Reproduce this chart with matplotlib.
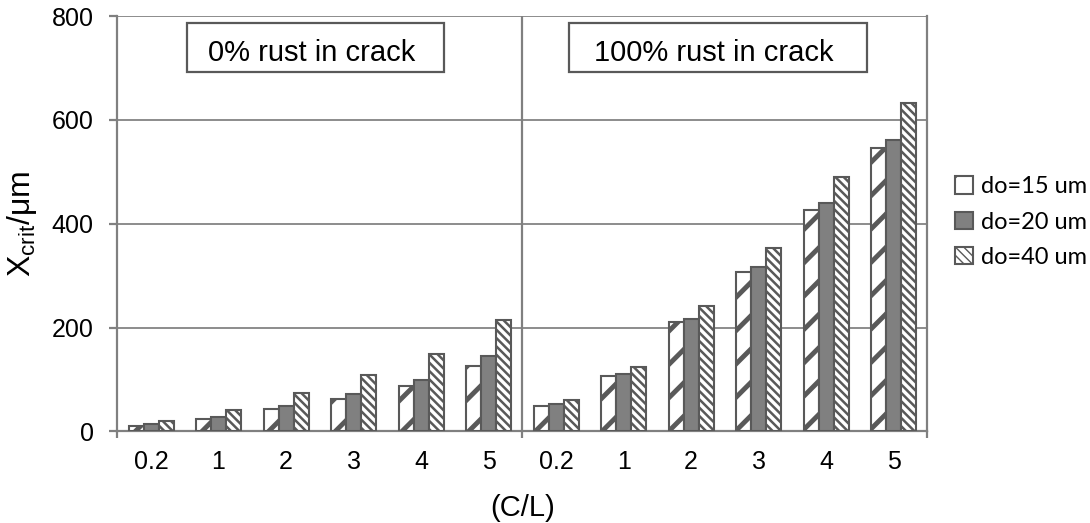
# Critical crack width X_crit vs (C/L) for three initial diameters, 0% and 100% rust in crack

import numpy as np
import matplotlib
matplotlib.use('Agg')
import matplotlib.pyplot as plt
from matplotlib.patches import Rectangle

# C/L categories, shown once for each panel (0% rust, then 100% rust)
cl_labels = ['0.2', '1', '2', '3', '4', '5']
panel_titles = ['0% rust in crack', '100% rust in crack']

# X_crit values (um), 0% rust first then 100% rust
do15 = [11, 24, 44, 63, 87, 127, 50, 107, 210, 307, 426, 545]
do20 = [14, 28, 50, 73, 100, 145, 53, 111, 217, 317, 439, 562]
do40 = [21, 41, 75, 109, 150, 214, 60, 125, 241, 354, 490, 632]
series_names = ['do=15 um', 'do=20 um', 'do=40 um']

y_ticks = [0, 200, 400, 600, 800]


def main():
    plt.rcParams['font.family'] = ['Liberation Sans', 'DejaVu Sans']
    plt.rcParams['mathtext.default'] = 'regular'

    line_grey = '#808080'
    edge_grey = '#595959'

    fig = plt.figure(figsize=(10.9, 5.23), dpi=100)
    ax = fig.add_axes([0.1076, 0.175, 0.7433, 0.7944])

    x = np.arange(len(do15))
    w = 0.222

    # Three bar series, hatched like the Excel original (thick wide stripes / thin dense stripes)
    with plt.rc_context({'hatch.linewidth': 3.5}):
        b1 = ax.bar(x - w, do15, w, facecolor='white', edgecolor=edge_grey, hatch='/', linewidth=1.5,
                    label=series_names[0], zorder=3)
    b2 = ax.bar(x, do20, w, facecolor='#808080', edgecolor=edge_grey, linewidth=1.5,
                label=series_names[1], zorder=3)
    with plt.rc_context({'hatch.linewidth': 1.8}):
        b3 = ax.bar(x + w, do40, w, facecolor='white', edgecolor=edge_grey, hatch='\\\\\\\\', linewidth=1.5,
                    label=series_names[2], zorder=3)

    # Axes limits and grid
    ax.set_xlim(-0.5, len(x) - 0.5)
    ax.set_ylim(0, 800)
    ax.set_yticks(y_ticks)
    ax.yaxis.grid(True, color='#8c8c8c', linewidth=1.4, zorder=0)
    ax.set_axisbelow(True)

    for side in ['left', 'right', 'bottom']:
        ax.spines[side].set_color(line_grey)
        ax.spines[side].set_linewidth(1.6)
    ax.spines['top'].set_visible(False)

    # Vertical divider between the two panels
    ax.axvline(len(cl_labels) - 0.5, color=line_grey, linewidth=1.6, zorder=4)

    # Category labels on minor ticks, separators on major ticks
    ax.set_xticks([-0.5, len(cl_labels) - 0.5, len(x) - 0.5])
    ax.set_xticklabels([])
    ax.set_xticks(x, minor=True)
    ax.set_xticklabels(cl_labels * 2, minor=True)
    ax.tick_params(axis='x', which='major', direction='out', length=5, width=1.6, color=line_grey)
    ax.tick_params(axis='x', which='minor', length=0, pad=13, labelsize=18)
    ax.tick_params(axis='y', direction='out', length=6, width=1.6, color=line_grey, pad=11, labelsize=18)

    ax.set_xlabel('(C/L)', fontsize=21, labelpad=15)
    ax.set_ylabel(r'X$_{crit}$/μm', fontsize=23)
    ax.yaxis.set_label_coords(-0.097, 0.5)

    # Panel title boxes
    box_x = [0.086, 0.558]
    box_w = [0.317, 0.367]
    for bx, bw, title in zip(box_x, box_w, panel_titles):
        ax.add_patch(Rectangle((bx, 0.865), bw, 0.118, transform=ax.transAxes,
                               facecolor='white', edgecolor=edge_grey, linewidth=1.6, zorder=5))
        ax.text(bx + bw / 2 - 0.005, 0.912, title, transform=ax.transAxes, ha='center', va='center',
                fontsize=21, zorder=6)

    # Legend on the right, no frame
    fig.legend(handles=[b1, b2, b3], loc='center left', bbox_to_anchor=(0.876, 0.5755),
               frameon=False, borderpad=0, borderaxespad=0, handlelength=0.75, handleheight=0.75,
               handletextpad=0.35, labelspacing=0.6, prop={'family': ['Lato', 'DejaVu Sans'], 'size': 17})

    plt.savefig('out.png', dpi=100, facecolor='white')


if __name__ == '__main__':
    main()
